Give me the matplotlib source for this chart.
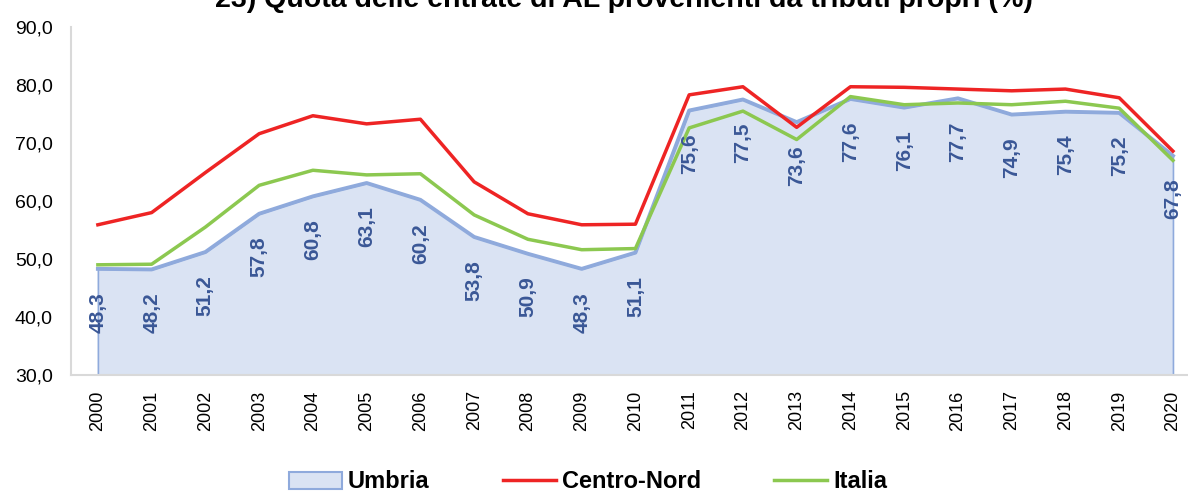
import matplotlib
matplotlib.use('Agg')
import matplotlib.pyplot as plt
from matplotlib.patches import Patch
from matplotlib.lines import Line2D

plt.rcParams['font.family'] = ['Liberation Sans', 'DejaVu Sans']

years = [str(y) for y in range(2000, 2021)]
umbria = [48.3, 48.2, 51.2, 57.8, 60.8, 63.1, 60.2, 53.8, 50.9, 48.3, 51.1,
          75.6, 77.5, 73.6, 77.6, 76.1, 77.7, 74.9, 75.4, 75.2, 67.8]
centro_nord = [55.9, 58.0, 64.9, 71.6, 74.7, 73.3, 74.1, 63.3, 57.8, 55.9, 56.0,
               78.3, 79.7, 72.7, 79.7, 79.6, 79.3, 79.0, 79.3, 77.8, 68.6]
italia = [49.0, 49.1, 55.5, 62.7, 65.3, 64.5, 64.7, 57.6, 53.4, 51.6, 51.8,
          72.6, 75.5, 70.6, 78.0, 76.6, 76.9, 76.6, 77.2, 76.0, 67.0]

title = '23) Quota delle entrate di AL provenienti da tributi propri (%)'

fill_col = '#dae3f3'
edge_col = '#8faadc'
red = '#ee2424'
green = '#8cc850'
label_col = '#3a5796'

fig = plt.figure(figsize=(11.88, 4.93), dpi=100)
ax = fig.add_axes([71 / 1188, 1 - 375 / 493, 1 - 71 / 1188, (375 - 27) / 493])

x = list(range(len(years)))
ax.fill_between(x, umbria, 30, facecolor=fill_col, edgecolor=edge_col, linewidth=1.2, zorder=1)
ax.plot(x, umbria, color=edge_col, lw=2.8, zorder=2)
ax.plot(x, centro_nord, color=red, lw=2.5, zorder=3)
ax.plot(x, italia, color=green, lw=2.5, zorder=3)

# etichette dati Umbria
for xi, v in zip(x, umbria):
    ax.annotate(f'{v:.1f}'.replace('.', ','), (xi, v), xytext=(0, -16.5),
                textcoords='offset points', rotation=90, ha='center', va='top',
                fontsize=15, fontweight='bold', color=label_col, zorder=4)

ax.set_ylim(30, 90)
ax.set_yticks(range(30, 91, 10))
ax.set_yticklabels([f'{t},0' for t in range(30, 91, 10)], fontsize=14)
ax.set_xlim(-0.5, 20.28)
ax.set_xticks(x)
ax.set_xticklabels(years, rotation=90, fontsize=13)
ax.tick_params(axis='y', length=0, pad=13)
ax.tick_params(axis='x', length=0, pad=11)

for s in ['top', 'right']:
    ax.spines[s].set_visible(False)
ax.spines['left'].set_color('#d9d9d9')
ax.spines['bottom'].set_color('#d9d9d9')
ax.spines['left'].set_linewidth(1.5)
ax.spines['bottom'].set_linewidth(1.5)
ax.set_facecolor('none')

# titolo tagliato in alto come nell'originale
fig.text(624 / 1188, 1 - 7 / 493, title, ha='center', va='baseline',
         fontsize=20.5, fontweight='bold')

handles = [Patch(facecolor=fill_col, edgecolor=edge_col, linewidth=1.5),
           Line2D([0], [0], color=red, lw=2.5),
           Line2D([0], [0], color=green, lw=2.5)]
leg = fig.legend(handles, ['Umbria', 'Centro-Nord', 'Italia'], loc='center',
                 bbox_to_anchor=(588 / 1188, 1 - 482 / 493), ncol=3, frameon=False,
                 prop={'size': 17, 'weight': 'bold'}, columnspacing=3.1,
                 handlelength=2.25, handletextpad=0.25, borderpad=0, borderaxespad=0)

fig.savefig('out.png', dpi=100)
